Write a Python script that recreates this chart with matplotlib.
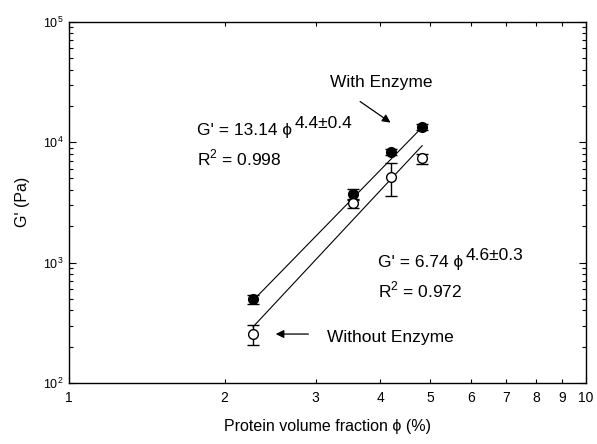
import numpy as np
import matplotlib.pyplot as plt
from matplotlib.ticker import FixedLocator, FixedFormatter, NullFormatter

plt.rcParams['font.family'] = ['Liberation Sans', 'DejaVu Sans']
plt.rcParams['mathtext.fontset'] = 'custom'
plt.rcParams['mathtext.rm'] = 'Liberation Sans'

# volume fraction (%) and storage modulus (Pa)
phi = [2.27, 3.55, 4.19, 4.82]
g_enzyme = [495, 3680, 8300, 13400]
g_enzyme_err = [40, 380, 500, 700]
g_plain = [255, 3100, 5150, 7330]
g_plain_err = [50, 250, 1600, 700]

# power-law fits G' = a * phi^b
fit_enzyme = (13.14, 4.4)
fit_plain = (6.74, 4.6)

fig = plt.figure(figsize=(5.97, 4.44), dpi=100)
ax = fig.add_axes([0.1156, 0.1374, 0.866, 0.8137])
ax.set_xscale('log')
ax.set_yscale('log')

xf = np.linspace(phi[0], phi[-1], 50)
ax.plot(xf, fit_enzyme[0] * xf ** fit_enzyme[1], color='black', lw=0.8)
ax.plot(xf, fit_plain[0] * xf ** fit_plain[1], color='black', lw=0.8)

ax.errorbar(phi, g_enzyme, yerr=g_enzyme_err, fmt='o', color='black',
            mfc='black', mec='black', ms=7, capsize=4.5, elinewidth=1, zorder=3)
ax.errorbar(phi, g_plain, yerr=g_plain_err, fmt='o', color='black',
            mfc='white', mec='black', ms=7, capsize=4.5, elinewidth=1, zorder=3)

ax.set_xlim(1, 10)
ax.set_ylim(1e2, 1e5)

# x ticks: every integer labelled
ax.xaxis.set_major_locator(FixedLocator([1, 10]))
ax.xaxis.set_major_formatter(FixedFormatter(['1', '10']))
ax.xaxis.set_minor_locator(FixedLocator([2, 3, 4, 5, 6, 7, 8, 9]))
ax.xaxis.set_minor_formatter(FixedFormatter(['2', '3', '4', '5', '6', '7', '8', '9']))

ax.yaxis.set_major_locator(FixedLocator([1e2, 1e3, 1e4, 1e5]))
ax.yaxis.set_major_formatter(FixedFormatter(['10$^2$', '10$^3$', '10$^4$', '10$^5$']))
ax.yaxis.set_minor_locator(FixedLocator([m * 10 ** e for e in (2, 3, 4) for m in range(2, 10)]))
ax.yaxis.set_minor_formatter(NullFormatter())

ax.tick_params(which='both', direction='in', top=True, right=True, width=0.8)
ax.tick_params(which='major', length=5)
ax.tick_params(which='minor', length=3)
ax.tick_params(axis='x', which='both', labelsize=10, pad=6)
ax.tick_params(axis='y', which='both', labelsize=9, pad=4)
for s in ax.spines.values():
    s.set_linewidth(1.0)

ax.set_xlabel('Protein volume fraction ϕ (%)', fontsize=11.5, labelpad=10)
ax.set_ylabel("G' (Pa)", fontsize=11.5, labelpad=9)

fs = 12.5
t1 = ax.text(1.77, 12600, "G' = 13.14 ϕ", fontsize=fs, va='center', ha='left')
ax.annotate('4.4±0.4', xy=(1, 0.5), xycoords=t1, xytext=(2, 5),
            textcoords='offset points', fontsize=fs, va='center', ha='left')
ax.text(1.77, 7400, 'R$^2$ = 0.998', fontsize=fs, va='center', ha='left')

t2 = ax.text(3.96, 1010, "G' = 6.74 ϕ", fontsize=fs, va='center', ha='left')
ax.annotate('4.6±0.3', xy=(1, 0.5), xycoords=t2, xytext=(2, 5),
            textcoords='offset points', fontsize=fs, va='center', ha='left')
ax.text(3.96, 590, 'R$^2$ = 0.972', fontsize=fs, va='center', ha='left')

ax.text(3.20, 31500, 'With Enzyme', fontsize=fs, va='center', ha='left')
ax.annotate('', xy=(4.23, 14100), xytext=(3.62, 22400),
            arrowprops=dict(arrowstyle='-|>', color='black', lw=0.9,
                            mutation_scale=12))
ax.text(3.155, 240, 'Without Enzyme', fontsize=fs, va='center', ha='left')
ax.annotate('', xy=(2.48, 255), xytext=(2.94, 255),
            arrowprops=dict(arrowstyle='-|>', color='black', lw=0.9,
                            mutation_scale=12))

fig.savefig('out.png', dpi=100)
